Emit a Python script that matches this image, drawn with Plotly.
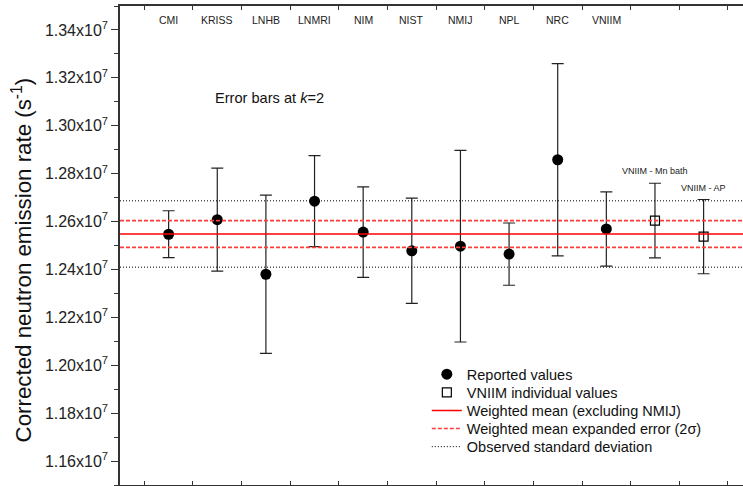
import plotly.graph_objects as go

# ---- data ----
labs = ["CMI", "KRISS", "LNHB", "LNMRI", "NIM", "NIST", "NMIJ", "NPL", "NRC", "VNIIM"]
reported = [1.2547e7, 1.2608e7, 1.2380e7, 1.2685e7, 1.2556e7, 1.2478e7, 1.2497e7, 1.2464e7, 1.2858e7, 1.2569e7]
reported_unc = [0.98e5, 2.15e5, 3.30e5, 1.90e5, 1.89e5, 2.20e5, 4.00e5, 1.30e5, 4.01e5, 1.55e5]
vniim_labels = ["VNIIM - Mn bath", "VNIIM - AP"]
vniim_vals = [1.2604e7, 1.2537e7]
vniim_unc = [1.56e5, 1.55e5]
w_mean = 1.2548e7
w_mean_err = 0.56e5
obs_sd = 1.385e5
y_ticks = [1.16e7, 1.18e7, 1.20e7, 1.22e7, 1.24e7, 1.26e7, 1.28e7, 1.30e7, 1.32e7, 1.34e7]
y_range = [1.15e7, 1.35e7]

FONT = "Liberation Sans, Arial, sans-serif"
x_rep = list(range(1, len(labs) + 1))
x_vn = [len(labs) + 1 + i for i in range(len(vniim_vals))]
x_span = [0, len(labs) + len(vniim_vals) + 1]

fig = go.Figure()

fig.add_trace(go.Scatter(
    x=x_rep, y=reported, mode="markers", name="Reported values",
    marker=dict(symbol="circle", size=11, color="black"),
    error_y=dict(type="data", array=reported_unc, color="#222", thickness=1.2, width=6),
    legend="legend"))
fig.add_trace(go.Scatter(
    x=x_vn, y=vniim_vals, mode="markers", name="VNIIM individual values",
    marker=dict(symbol="square-open", size=9, color="black", line=dict(width=1.2)),
    error_y=dict(type="data", array=vniim_unc, color="#222", thickness=1.2, width=6),
    legend="legend2"))

fig.add_trace(go.Scatter(
    x=x_span, y=[w_mean, w_mean], mode="lines", name="Weighted mean (excluding NMIJ)",
    line=dict(color="#ff0000", width=1.5), legend="legend3"))
fig.add_trace(go.Scatter(
    x=x_span, y=[w_mean + w_mean_err] * 2, mode="lines", name="Weighted mean expanded error (2\u03c3)",
    line=dict(color="#ff3b3b", width=1.6, dash="4px,2px"), legend="legend4"))
fig.add_trace(go.Scatter(
    x=x_span, y=[w_mean - w_mean_err] * 2, mode="lines", showlegend=False,
    line=dict(color="#ff3b3b", width=1.6, dash="4px,2px")))
fig.add_trace(go.Scatter(
    x=x_span, y=[w_mean + obs_sd] * 2, mode="lines", name="Observed standard deviation",
    line=dict(color="black", width=1, dash="1px,2px"), legend="legend5"))
fig.add_trace(go.Scatter(
    x=x_span, y=[w_mean - obs_sd] * 2, mode="lines", showlegend=False,
    line=dict(color="black", width=1, dash="1px,2px")))

annotations = []
for xi, lab in zip(x_rep, labs):
    annotations.append(dict(x=xi, y=0.988, xref="x", yref="paper", text=lab, showarrow=False,
                            font=dict(size=10.5, color="#222", family=FONT)))
for xi, yi, ui, lab in zip(x_vn, vniim_vals, vniim_unc, vniim_labels):
    annotations.append(dict(x=xi, y=yi + ui, xref="x", yref="y", text=lab, showarrow=False,
                            yanchor="bottom", yshift=5,
                            font=dict(size=9, color="#222", family=FONT)))
annotations.append(dict(x=3.07, y=1.3117e7, xref="x", yref="y", text="Error bars at <i>k</i>=2",
                        showarrow=False, font=dict(size=14.6, color="#111", family=FONT)))
annotations.append(dict(x=-0.158, y=0.47, xref="paper", yref="paper",
                        text="Corrected neutron emission rate (s<sup>-1</sup>)",
                        textangle=-90, showarrow=False, xanchor="center", yanchor="middle",
                        font=dict(size=22.3, color="#111", family=FONT)))

legend_common = dict(x=0.4925, xanchor="left", yanchor="top", bgcolor="rgba(0,0,0,0)",
                     font=dict(size=14.5, family=FONT, color="#111"), itemwidth=30)
leg_y0, leg_step = 0.2645, 0.0378
legends = {}
for i, key in enumerate(["legend", "legend2", "legend3", "legend4", "legend5"]):
    legends[key] = dict(legend_common, y=leg_y0 - i * leg_step)

fig.update_layout(
    width=743, height=486,
    margin=dict(l=120, r=0, t=6, b=1),
    paper_bgcolor="white", plot_bgcolor="white",
    font=dict(family=FONT, color="#111"),
    showlegend=True,
    annotations=annotations,
    **legends,
)
fig.update_xaxes(
    range=[0, 12.81], showgrid=False, zeroline=False,
    showline=True, linecolor="#333", linewidth=1.5, mirror="ticks",
    ticks="inside", ticklen=4, tickcolor="#333", tickwidth=1.2,
    tickmode="array", tickvals=[i + 0.5 for i in range(0, 13)], showticklabels=False,
)
fig.update_yaxes(
    range=y_range, showgrid=False, zeroline=False,
    showline=True, linecolor="#333", linewidth=1.5, mirror=False,
    ticks="outside", ticklen=7, tickcolor="#333", tickwidth=1.2,
    tickmode="array", tickvals=y_ticks,
    ticktext=[f"{v/1e7:.2f}x10<sup>7</sup>" for v in y_ticks],
    tickfont=dict(size=16, color="#222", family=FONT),
    minor=dict(tickmode="linear", tick0=y_range[0], dtick=(y_ticks[1] - y_ticks[0]) / 2,
               ticks="outside", ticklen=4, tickcolor="#333", tickwidth=1.2, showgrid=False),
)

fig.write_html("out.html", config={"displayModeBar": False},
               post_script="document.body.style.margin='0';")
